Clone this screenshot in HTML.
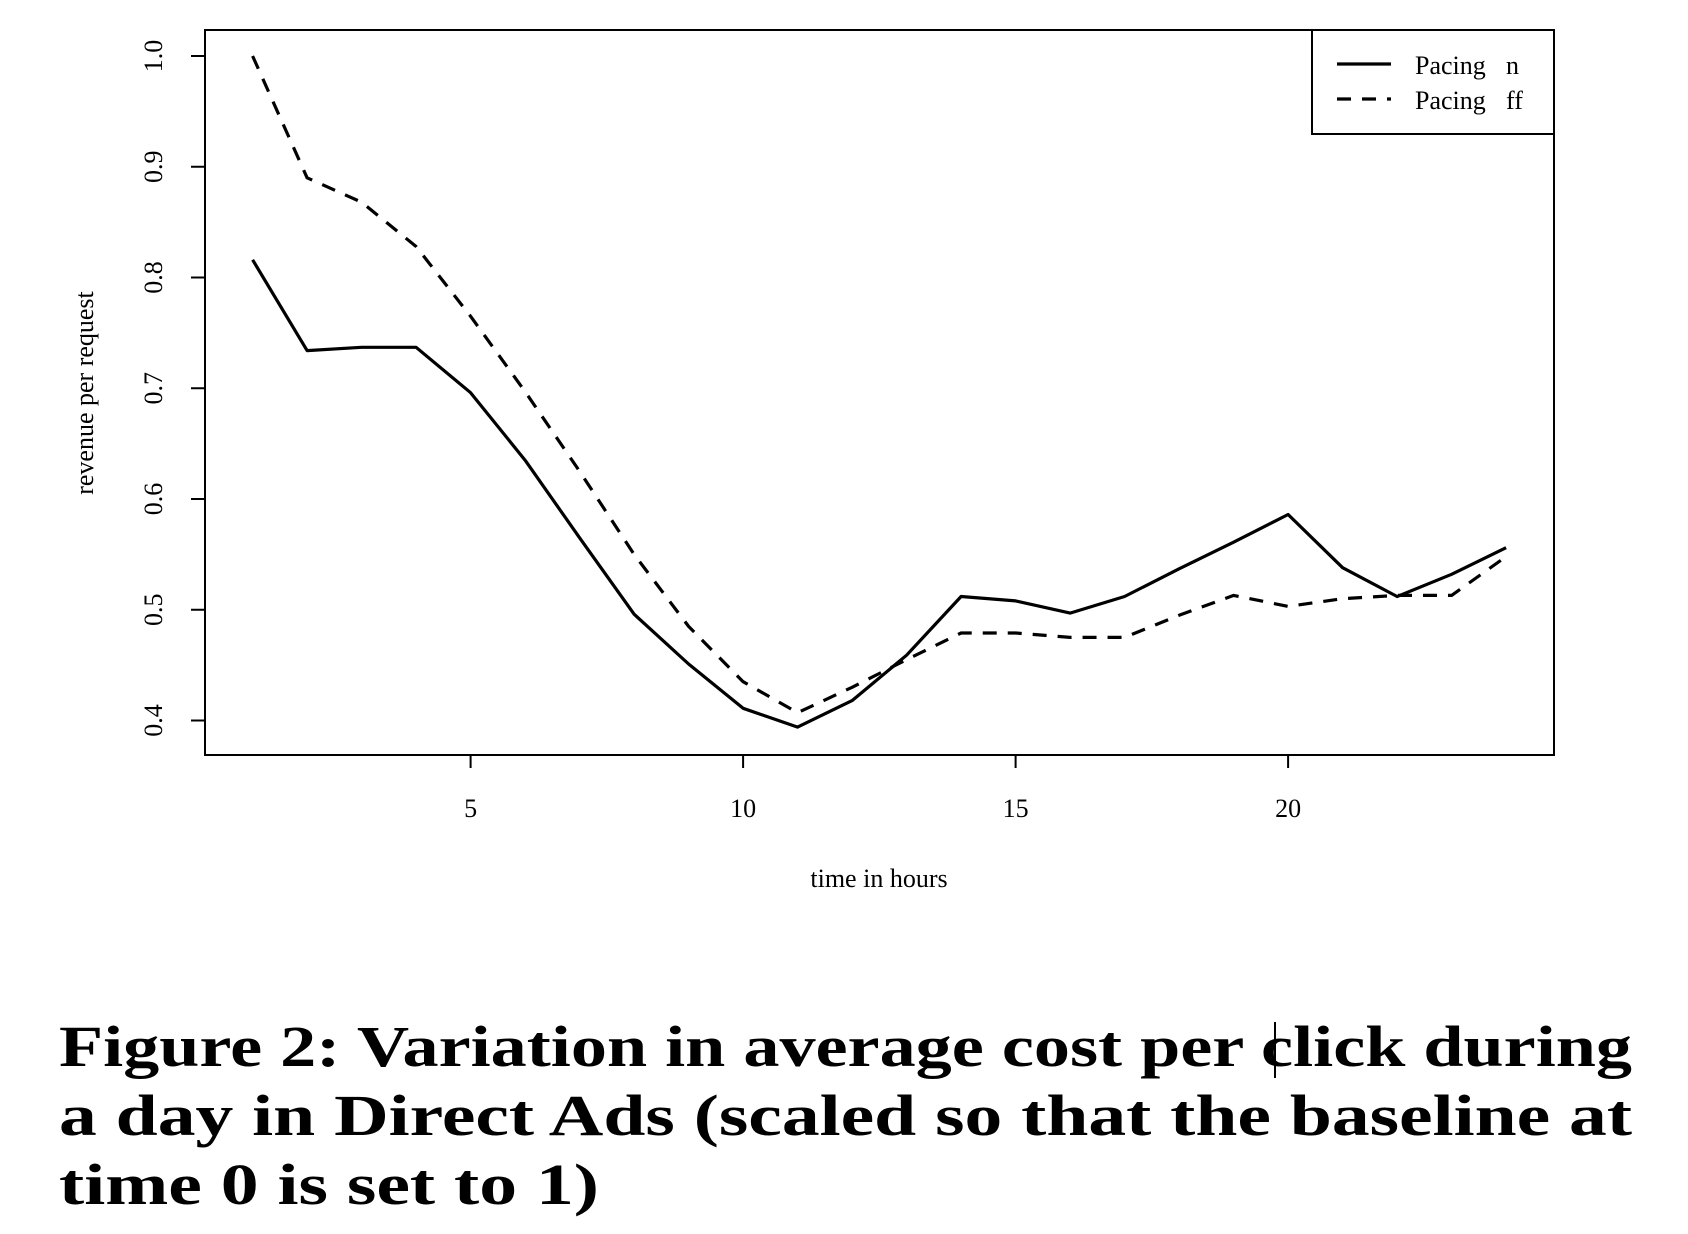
<!DOCTYPE html>
<html><head><meta charset="utf-8"><style>
body{margin:0;background:#fff}
svg{display:block;font-family:"Liberation Serif",serif}
</style></head><body>
<svg width="1688" height="1234" viewBox="0 0 1688 1234">
<g id="chart"></g>
<g font-weight="bold" font-size="58" fill="#000">
<text x="59" y="1066" textLength="1573" lengthAdjust="spacingAndGlyphs">Figure 2: Variation in average cost per click during</text>
<text x="59" y="1135" textLength="1573" lengthAdjust="spacingAndGlyphs">a day in Direct Ads (scaled so that the baseline at</text>
<text x="59" y="1204" textLength="540" lengthAdjust="spacingAndGlyphs">time 0 is set to 1)</text>
<rect x="1274" y="1022" width="2" height="56" fill="#000"/>
</g>
</svg>
<script>
const hours=[1,2,3,4,5,6,7,8,9,10,11,12,13,14,15,16,17,18,19,20,21,22,23,24];
const pacingOn=[0.816,0.734,0.737,0.737,0.696,0.635,0.565,0.496,0.451,0.411,0.394,0.418,0.459,0.512,0.508,0.497,0.512,0.537,0.561,0.586,0.538,0.512,0.532,0.556];
const pacingOff=[1.0,0.89,0.868,0.828,0.765,0.697,0.625,0.55,0.485,0.435,0.407,0.43,0.455,0.479,0.479,0.475,0.475,0.495,0.513,0.503,0.51,0.513,0.513,0.548];
const xTicks=[5,10,15,20];
const yTicks=[0.4,0.5,0.6,0.7,0.8,0.9,1.0];
const yTickLabels=["0.4","0.5","0.6","0.7","0.8","0.9","1.0"];

const NS="http://www.w3.org/2000/svg";
const g=document.getElementById('chart');
const L=205,R=1554,T=30,B=755;
const xs=v=>252.6+(v-1)*54.5;
const ys=v=>720.5-(v-0.4)*(664.5/0.6);
function mk(tag,attrs,parent){const e=document.createElementNS(NS,tag);for(const k in attrs)e.setAttribute(k,attrs[k]);(parent||g).appendChild(e);return e;}

const box=mk('rect',{x:L,y:T,width:R-L,height:B-T,fill:'none',stroke:'#000','stroke-width':2});



xTicks.forEach(t=>{
  const ln=mk('line',{x1:xs(t),x2:xs(t),y1:B,y2:B+13,stroke:'#000','stroke-width':2});
  
  
  const tx=mk('text',{x:xs(t),y:817,'font-size':26,'text-anchor':'middle'});
  tx.textContent=t;
  
  
});
yTicks.forEach((t,i)=>{
  const ln=mk('line',{x1:L-14,x2:L,y1:ys(t),y2:ys(t),stroke:'#000','stroke-width':2});
  
  
  const tx=mk('text',{x:0,y:0,'font-size':26,'text-anchor':'middle',transform:`translate(162,${ys(t)}) rotate(-90)`});
  tx.textContent=yTickLabels[i];
  
  
});
const xt=mk('text',{x:879,y:887,'font-size':26,'text-anchor':'middle'});
xt.textContent='time in hours';


const yt=mk('text',{x:0,y:0,'font-size':26,'text-anchor':'middle',transform:'translate(93,393) rotate(-90)'});
yt.textContent='revenue per request';



function line(vals,dash,name){
  const d=vals.map((v,i)=>(i?'L':'M')+xs(hours[i]).toFixed(1)+','+ys(v).toFixed(1)).join(' ');
  const p=mk('path',{d:d,fill:'none',stroke:'#000','stroke-width':3.2,'stroke-linejoin':'round'});
  if(dash)p.setAttribute('stroke-dasharray','14,11');
  
  
}
line(pacingOff,true,'pacing-off-line');
line(pacingOn,false,'pacing-on-line');

const lg=mk('g',{});


mk('rect',{x:1312,y:30,width:242,height:104,fill:'#fff',stroke:'#000','stroke-width':2},lg);
mk('line',{x1:1337,x2:1391,y1:64,y2:64,stroke:'#000','stroke-width':3.2},lg);
mk('line',{x1:1337,x2:1391,y1:99,y2:99,stroke:'#000','stroke-width':3.2,'stroke-dasharray':'14,11'},lg);
const l1=mk('text',{x:1415,y:74,'font-size':26},lg);l1.textContent='Pacing';


const l1b=mk('text',{x:1506,y:74,'font-size':26},lg);l1b.textContent='n';


const l2=mk('text',{x:1415,y:109,'font-size':26},lg);l2.textContent='Pacing';


const l2b=mk('text',{x:1506,y:109,'font-size':26},lg);l2b.textContent='ff';


</script>
</body></html>
